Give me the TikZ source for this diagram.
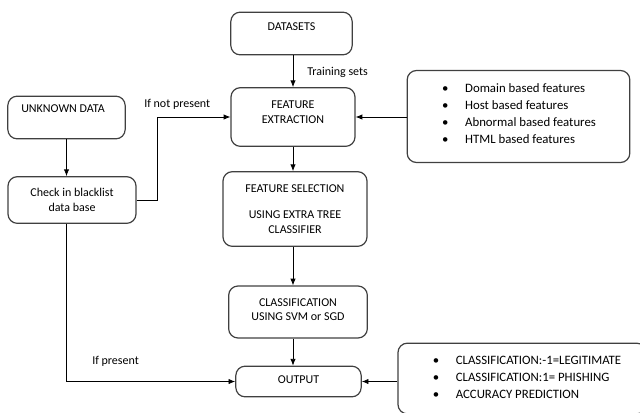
\documentclass[tikz,border=0pt]{standalone}
\usepackage{fontspec}
\setmainfont{Carlito}
\usetikzlibrary{arrows.meta}

\begin{document}
\begin{tikzpicture}[x=0.75pt, y=-0.75pt,
		font=\fontsize{9}{11}\selectfont,
		box/.style={draw=black!75, line width=0.9pt, rounded corners=7pt, inner sep=0pt},
		arr/.style={-{Latex[length=5pt, width=4pt]}, line width=0.6pt},
		lbl/.style={anchor=west, inner sep=0pt},
		lst/.style={inner sep=0pt, font=\fontsize{9.6}{11}\selectfont}]
			%%%%% START %%%%%
			\clip (0, 0) rectangle (640, 412);
			
			% main column
			\node[box, minimum width=91pt, minimum height=32pt] (ds) at (291.5, 33.5) {};
			\node[inner sep=0pt] (dst) at (291.5, 27) {DATASETS};
			
			\node[box, minimum width=93pt, minimum height=44pt, align=center] (fe) at (293, 117) {};
			\node[inner sep=0pt, align=center] (fet) at (293, 112) {FEATURE\\EXTRACTION};
			
			\node[box, minimum width=108pt, minimum height=56pt, align=center] (fs) at (295, 209)
				{FEATURE SELECTION\\[9pt]USING EXTRA TREE\\CLASSIFIER};
			
			\node[box, minimum width=104pt, minimum height=39pt] (cl) at (298, 312) {};
			\node[inner sep=0pt, align=center] (clt) at (298, 309.5) {CLASSIFICATION\\USING SVM or SGD};
			
			\node[box, minimum width=94pt, minimum height=23pt] (out) at (298.5, 381.5) {};
			\node[inner sep=0pt] (outt) at (298.5, 380) {OUTPUT};
			
			% left column
			\node[box, minimum width=88pt, minimum height=32pt] (unk) at (66.5, 117.5) {};
			\node[lbl] (unkt) at (21, 109) {UNKNOWN DATA};
			
			\node[box, minimum width=96pt, minimum height=35pt, align=center] (chk) at (72, 200)
				{Check in blacklist\\data base};
			
			% right side lists
			\node[box, minimum width=167pt, minimum height=69pt] (feat) at (518.5, 116.5) {};
			\node[lst] (featt) at (519, 115) {\renewcommand{\arraystretch}{1.16}%
				\begin{tabular}{@{}l@{\hspace{12.5pt}}l@{}}
					\textbullet & Domain based features\\
					\textbullet & Host based features\\
					\textbullet & Abnormal based features\\
					\textbullet & HTML based features
				\end{tabular}};
			
			\node[box, minimum width=186pt, minimum height=53pt] (res) at (522, 378.5) {};
			\node[lst] (rest) at (527, 378) {\renewcommand{\arraystretch}{1.19}%
				\begin{tabular}{@{}l@{\hspace{12.5pt}}l@{}}
					\textbullet & CLASSIFICATION:-1=LEGITIMATE\\
					\textbullet & CLASSIFICATION:1= PHISHING\\
					\textbullet & ACCURACY PREDICTION
				\end{tabular}};
			
			% connectors
			\draw[arr] (fe.north |- ds.south) -- (fe.north);
			\draw[arr] (fe.south) -- (fe.south |- fs.north);
			\draw[arr] (fe.south |- fs.south) -- (fe.south |- cl.north);
			\draw[arr] (fe.south |- cl.south) -- (fe.south |- out.north);
			\draw[arr] (feat.west |- fe.east) -- (fe.east);
			\draw[arr] (res.west |- out.east) -- (out.east);
			
			\draw[arr] (unk.south) -- (unk.south |- chk.north);
			\draw[arr] (chk.east) -- ++(21, 0) |- (fe.west);
			\draw[arr] (unk.south |- chk.south) |- (out.west);
			
			% labels
			\node[lbl] (train) at (307, 72) {Training sets};
			\node[lbl] (notp) at (144, 104) {If not present};
			\node[lbl] (pres) at (92, 361) {If present};
			
			%%%%% END %%%%%
		\end{tikzpicture}
\end{document}
